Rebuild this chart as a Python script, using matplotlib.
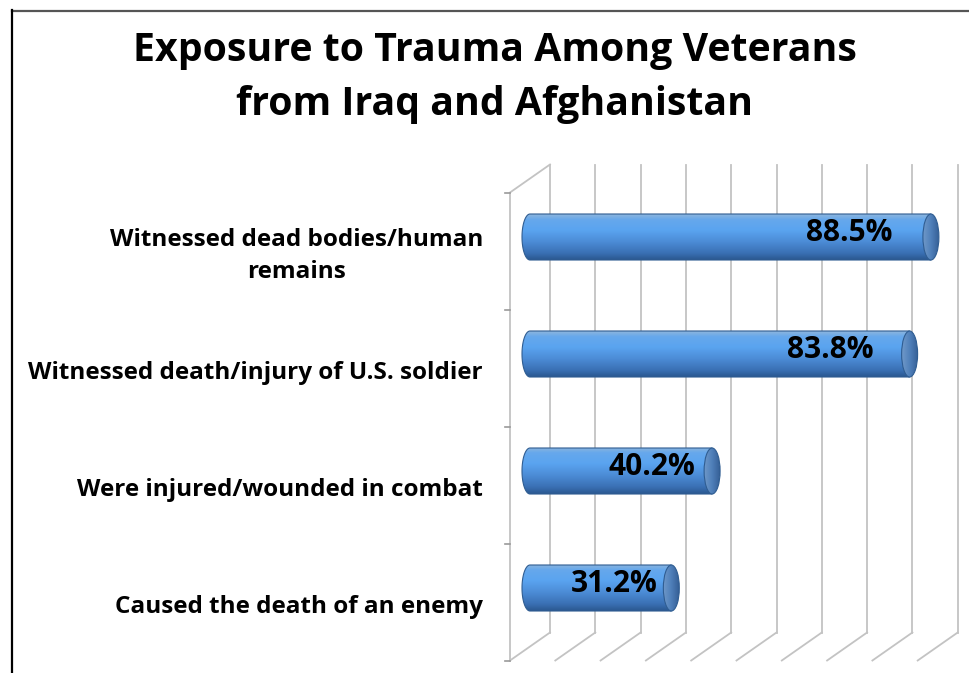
import numpy as np
import matplotlib.pyplot as plt
from matplotlib.colors import LinearSegmentedColormap
from matplotlib.patches import Ellipse, Polygon
from matplotlib.lines import Line2D

categories = [
    "Witnessed dead bodies/human\nremains",
    "Witnessed death/injury of U.S. soldier",
    "Were injured/wounded in combat",
    "Caused the death of an enemy",
]
values = [88.5, 83.8, 40.2, 31.2]
value_labels = ["88.5%", "83.8%", "40.2%", "31.2%"]
grid_ticks = list(range(0, 100, 10))
title_lines = ["Exposure to Trauma Among Veterans", "from Iraq and Afghanistan"]

plt.rcParams['font.family'] = ['Open Sans', 'DejaVu Sans']

W, H = 969, 673
fig = plt.figure(figsize=(W / 100, H / 100), dpi=100)

# axes laid out in pixel terms
ax_l, ax_r, ax_t, ax_b = 500, 969, 150, 673
ax = fig.add_axes([ax_l / W, 1 - ax_b / H, (ax_r - ax_l) / W, (ax_b - ax_t) / H])
px_x, x0 = 4.53, 530     # pixels per percent, pixel of 0 %
px_y, y0 = 117, 237      # pixels per category, pixel of first category
xlim = ((ax_l - x0) / px_x, (ax_r - x0) / px_x)
ylim = ((ax_b - y0) / px_y, (ax_t - y0) / px_y)
ax.axis('off')

# 3D depth offsets (half depth) in data units
dx = 20 / px_x
dy = 14 / px_y
n = len(categories)
top, bot = -0.5, n - 0.5
grid_c = '#c3c3c3'

# back wall gridlines and floor diagonals
for t in grid_ticks:
    ax.plot([t + dx, t + dx], [top - dy, bot - dy], color=grid_c, lw=1.3, zorder=1)
    ax.plot([t + dx, t - dx], [bot - dy, bot + dy], color=grid_c, lw=1.3, zorder=1)

# left wall edge and ticks
ax.plot([-dx, -dx], [top + dy, bot + dy], color=grid_c, lw=1.3, zorder=1)
ax.plot([-dx, dx], [top + dy, top - dy], color=grid_c, lw=1.3, zorder=1)
for k in range(n + 1):
    ax.plot([-dx - 5 / px_x, -dx], [k - 0.5 + dy, k - 0.5 + dy], color='#999999', lw=1.2, zorder=1)

body_cmap = LinearSegmentedColormap.from_list('body', [
    (0.0, '#8fb6dc'), (0.12, '#66a8ec'), (0.35, '#5aa4f0'),
    (0.6, '#4c8cd6'), (0.85, '#3a70b4'), (1.0, '#2a578f')])
cap_cmap = LinearSegmentedColormap.from_list('cap', [
    (0.0, '#6f98c8'), (0.5, '#4f80ba'), (1.0, '#365f96')])
edge_c = '#2f5d92'

bh = 46 / px_y          # bar thickness
cw = 16 / px_x          # end-cap width
a, b = cw / 2, bh / 2
grad = np.linspace(0, 1, 256).reshape(-1, 1)
theta = np.linspace(np.pi / 2, 3 * np.pi / 2, 40)

for i, v in enumerate(values):
    left_end = np.column_stack([a * np.cos(theta), i + b * np.sin(theta)])
    verts = np.vstack([[[v, i - b], [v, i + b]], left_end])
    body = Polygon(verts, closed=True, facecolor='none', edgecolor=edge_c, lw=0.8, zorder=3)
    ax.add_patch(body)
    im = ax.imshow(grad, cmap=body_cmap, extent=(-a, v, i + b, i - b),
                   aspect='auto', interpolation='bicubic', zorder=2)
    im.set_clip_path(body)

    cap = Ellipse((v, i), cw, bh, facecolor='none', edgecolor=edge_c, lw=0.8, zorder=5)
    ax.add_patch(cap)
    im2 = ax.imshow(grad.T, cmap=cap_cmap, extent=(v - a, v + a, i + b, i - b),
                    aspect='auto', interpolation='bicubic', zorder=4)
    im2.set_clip_path(cap)

    ax.text(v * 0.905, i - 0.03, value_labels[i], ha='right', va='center',
            fontsize=21.5, fontweight='bold', color='black', zorder=6)

    ax.text((483 - x0) / px_x, i + 0.16, categories[i], ha='right', va='center',
            multialignment='center', fontsize=17.5, fontweight='bold',
            color='black', clip_on=False, linespacing=1.45)

ax.set_xlim(*xlim)
ax.set_ylim(*ylim)

for k, line in enumerate(title_lines):
    fig.text(495 / W, 1 - (50 + 55 * k) / H, line, ha='center', va='center',
             fontsize=28.3, fontweight='bold')

# frame around chart
fig.add_artist(Line2D([12 / W, 1], [1 - 10.5 / H] * 2, color='#555555', lw=1.6))
fig.add_artist(Line2D([12 / W] * 2, [1 - 10 / H, 0], color='black', lw=1.6))

fig.savefig('out.png', dpi=100)
